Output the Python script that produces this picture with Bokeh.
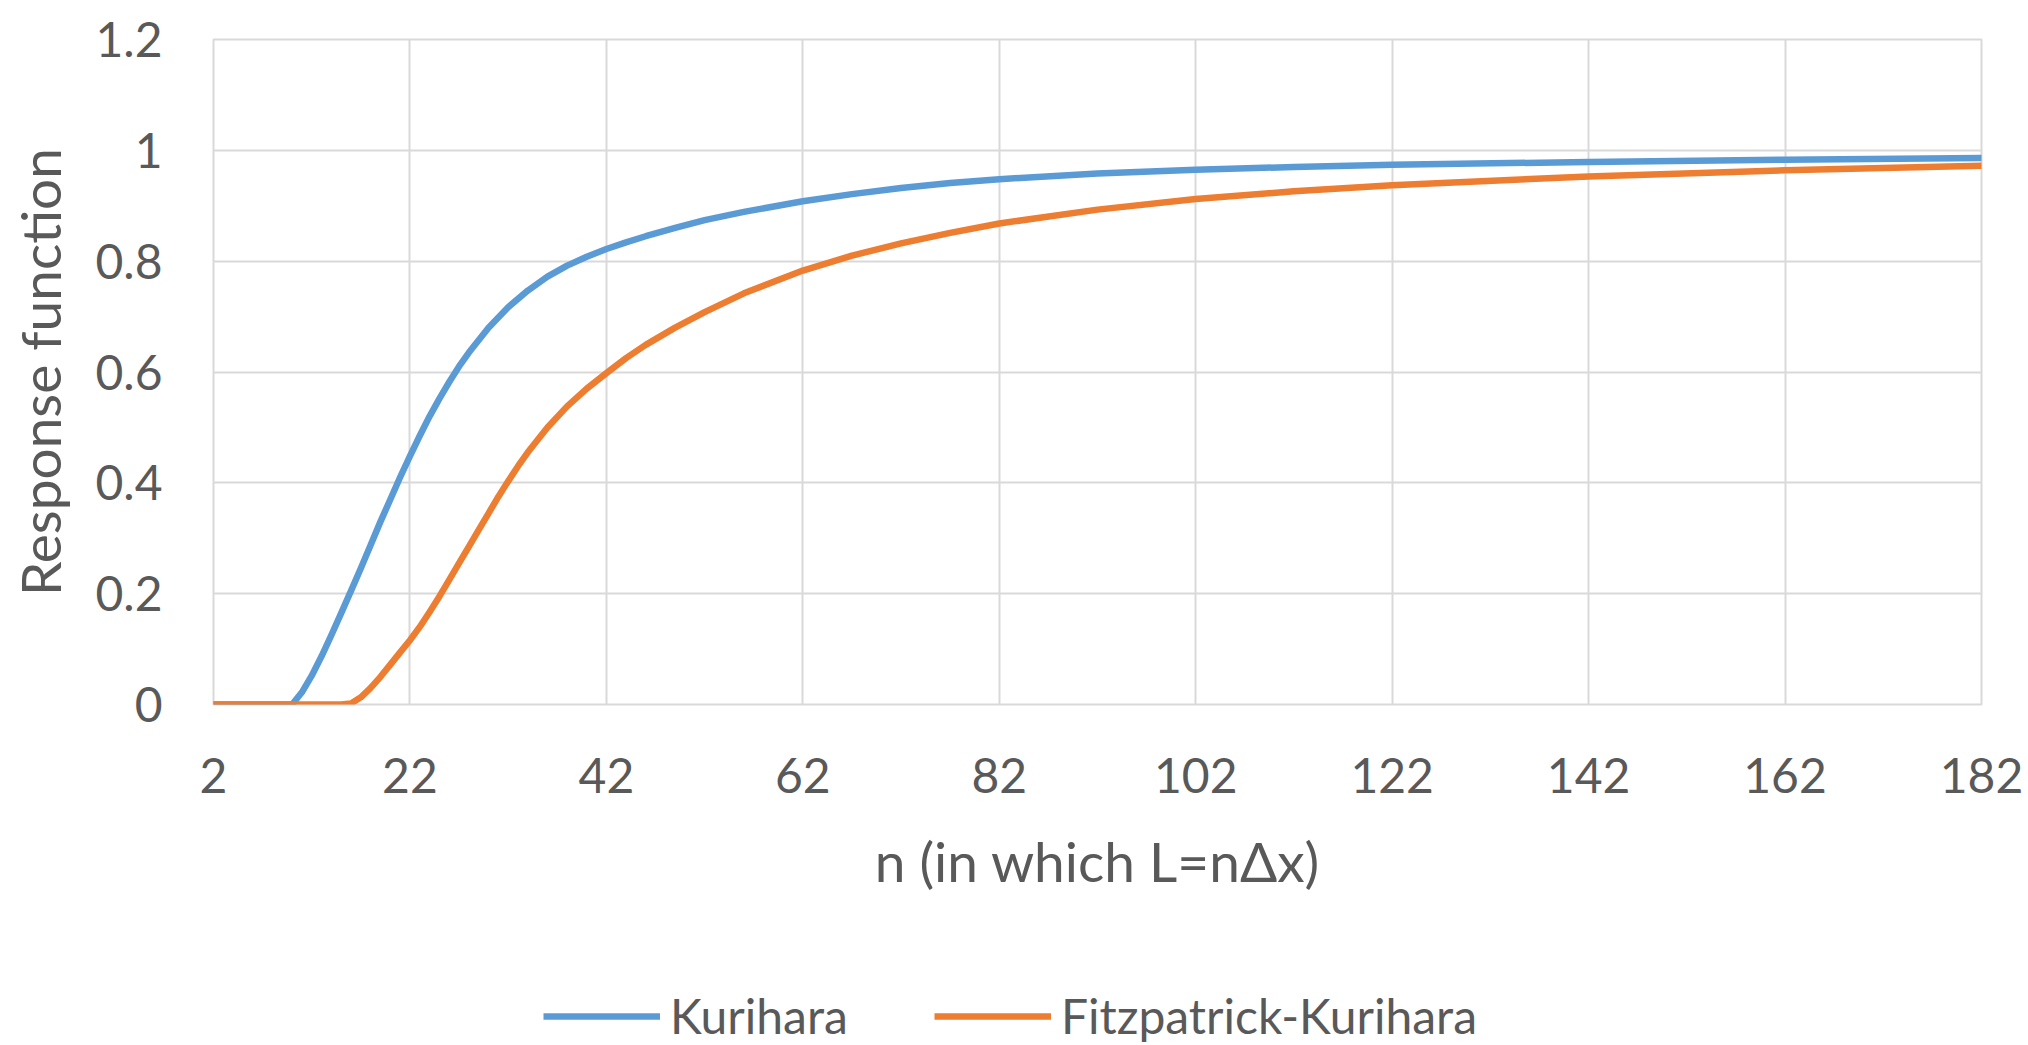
from bokeh.plotting import figure
from bokeh.layouts import column
from bokeh.models import FixedTicker, Legend, LegendItem
from bokeh.embed import file_html
from bokeh.resources import INLINE

# Data
kurihara_n = [2, 4, 6, 8, 10, 11, 12, 13, 14, 15, 16, 17, 18, 19, 20, 21, 22, 23, 24,
              25, 26, 27, 28, 30, 32, 34, 36, 38, 40, 42, 44, 46, 49, 52, 56, 62, 67,
              72, 77, 82, 92, 102, 112, 122, 142, 162, 182]
kurihara_r = [0, 0, 0, 0, 0, 0.022, 0.052, 0.087, 0.125, 0.165, 0.205, 0.246, 0.288,
              0.33, 0.37, 0.41, 0.448, 0.485, 0.52, 0.552, 0.582, 0.61, 0.635, 0.68,
              0.717, 0.747, 0.772, 0.792, 0.808, 0.822, 0.834, 0.845, 0.86, 0.874,
              0.889, 0.908, 0.921, 0.932, 0.941, 0.948, 0.958, 0.965, 0.97, 0.974,
              0.979, 0.983, 0.986]

fitz_n = [2, 4, 6, 8, 10, 12, 14, 15, 16, 17, 18, 19, 20, 21, 22, 23, 24, 25, 26, 27,
          28, 29, 30, 31, 32, 33, 34, 36, 38, 40, 42, 44, 46, 49, 52, 56, 62, 67, 72,
          77, 82, 92, 102, 112, 122, 142, 162, 182]
fitz_r = [0, 0, 0, 0, 0, 0, 0, 0, 0.002, 0.013, 0.03, 0.05, 0.072, 0.094, 0.116, 0.14,
          0.167, 0.195, 0.225, 0.255, 0.285, 0.315, 0.345, 0.375, 0.403, 0.43, 0.455,
          0.5, 0.538, 0.57, 0.598, 0.625, 0.649, 0.68, 0.708, 0.742, 0.783, 0.81,
          0.832, 0.851, 0.868, 0.893, 0.912, 0.926, 0.937, 0.953, 0.964, 0.972]

x_ticks = [2, 22, 42, 62, 82, 102, 122, 142, 162, 182]
y_ticks = [0, 0.2, 0.4, 0.6, 0.8, 1, 1.2]
y_tick_labels = ["0", "0.2", "0.4", "0.6", "0.8", "1", "1.2"]
series_names = ["Kurihara", "Fitzpatrick-Kurihara"]

FONT = "Lato"
TEXT = "#595959"
GRID = "#D9D9D9"
BLUE = "#5B9BD5"
ORANGE = "#ED7D31"

p = figure(width=2028, height=955, x_range=(2, 182), y_range=(0, 1.2),
           output_backend="svg", toolbar_location=None,
           min_border_left=213, min_border_right=47, min_border_top=39,
           min_border_bottom=251)

p.background_fill_color = "white"
p.border_fill_color = "white"
p.outline_line_color = GRID
p.outline_line_width = 2

xa = p.xaxis[0]
ya = p.yaxis[0]
for ax in (xa, ya):
    ax.axis_line_color = None
    ax.major_tick_line_color = None
    ax.minor_tick_line_color = None
    ax.major_tick_out = 0
    ax.minor_tick_out = 0
    ax.major_label_text_font = FONT
    ax.major_label_text_font_size = "48px"
    ax.major_label_text_color = TEXT
    ax.axis_label_text_font = FONT
    ax.axis_label_text_font_size = "55px"
    ax.axis_label_text_font_style = "normal"
    ax.axis_label_text_color = TEXT

xa.ticker = FixedTicker(ticks=x_ticks)
ya.ticker = FixedTicker(ticks=y_ticks)
ya.major_label_overrides = {t: s for t, s in zip(y_ticks, y_tick_labels)}
xa.axis_label = "n (in which L=n\u0394x)"
ya.axis_label = "Response function"
xa.major_label_standoff = 53
xa.axis_label_standoff = 32
ya.major_label_standoff = 51
ya.axis_label_standoff = 19

p.xgrid.grid_line_color = GRID
p.ygrid.grid_line_color = GRID
p.xgrid.grid_line_width = 2
p.ygrid.grid_line_width = 2

p.line(kurihara_n, kurihara_r, line_color=BLUE, line_width=6.5,
       line_join="round", line_cap="round")
p.line(fitz_n, fitz_r, line_color=ORANGE, line_width=6.5,
       line_join="round", line_cap="round")

# legend strip below the chart (its series lie outside this strip's view)
lg = figure(width=2028, height=90, x_range=(2, 182), y_range=(5, 6),
            output_backend="svg", toolbar_location=None,
            x_axis_location=None, y_axis_location=None,
            min_border=0, min_border_left=0, min_border_right=0,
            min_border_top=0, min_border_bottom=0)
lg.outline_line_color = None
lg.grid.grid_line_color = None
lg.background_fill_color = "white"
lg.border_fill_color = "white"

k1 = lg.line(kurihara_n, kurihara_r, line_color=BLUE, line_width=6.5)
k2 = lg.line(fitz_n, fitz_r, line_color=ORANGE, line_width=6.5)

legend = Legend(items=[LegendItem(label=series_names[0], renderers=[k1]),
                       LegendItem(label=series_names[1], renderers=[k2])],
                orientation="horizontal", location=(330, 1),
                glyph_width=117, label_standoff=10, spacing=86,
                padding=0, margin=0, border_line_color=None,
                background_fill_alpha=0,
                label_text_font=FONT, label_text_font_size="48px",
                label_text_color=TEXT)
lg.add_layout(legend, "center")

open("out.html", "w").write(file_html(column(p, lg, spacing=0), INLINE))
